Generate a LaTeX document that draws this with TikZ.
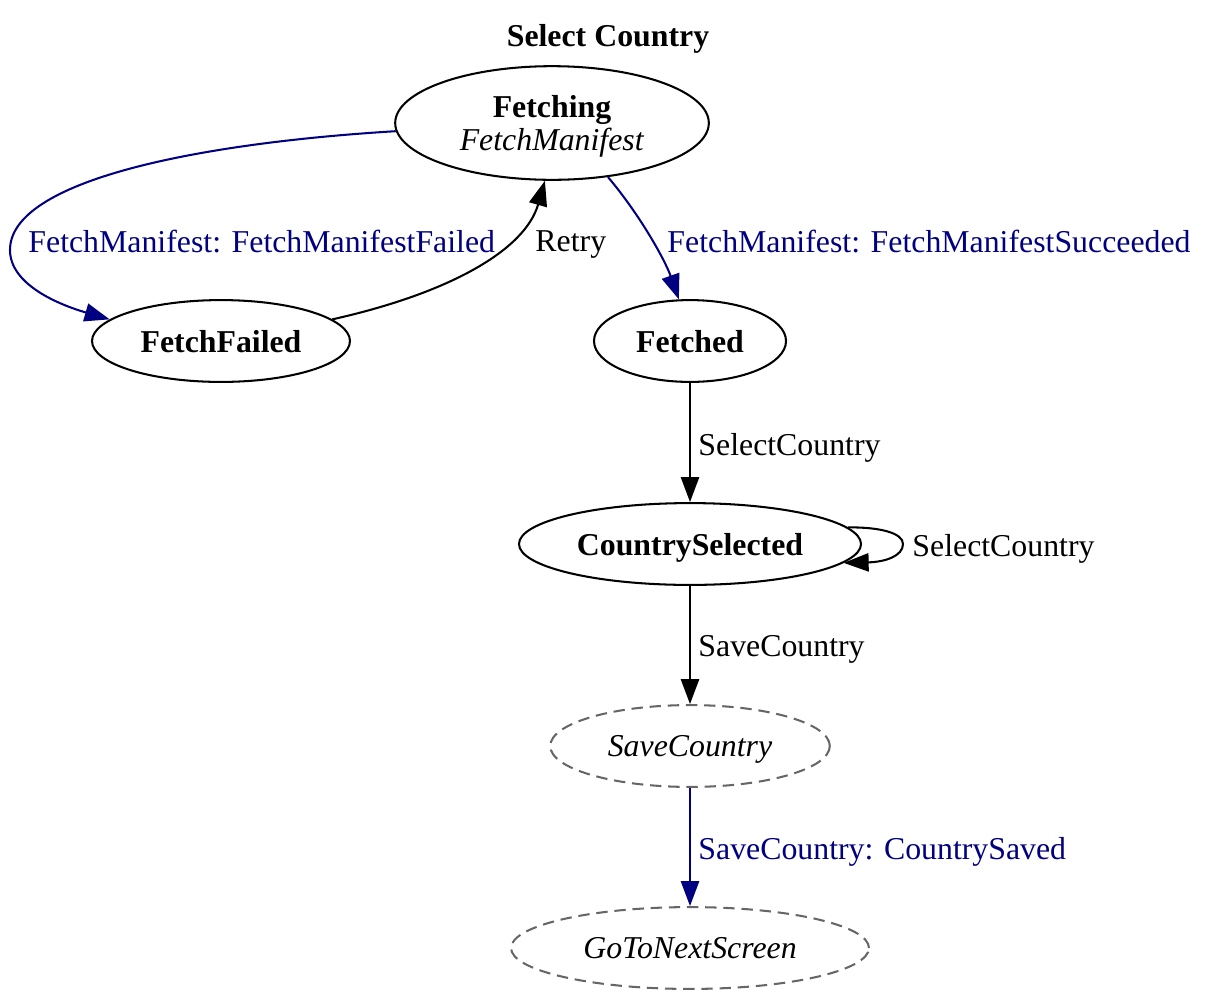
\documentclass[tikz,border=0pt]{standalone}
\usepackage{fontspec}
\setmainfont{Liberation Serif}
\usetikzlibrary{arrows.meta,shapes.geometric}
\definecolor{edgeblue}{RGB}{0,0,128}
\definecolor{actiongray}{RGB}{102,102,102}
\begin{document}
\begin{tikzpicture}[x=0.44pt,y=-0.44pt,>={Triangle[length=11pt,width=8pt]},
    every node/.style={font=\fontsize{14}{14.5}\selectfont,text depth=0pt},
    state/.style={ellipse,draw,line width=0.9pt,inner sep=0pt,font=\fontsize{14}{14.5}\selectfont\bfseries},
    action/.style={ellipse,draw=actiongray,line width=0.9pt,dash pattern=on 5pt off 3pt,inner sep=0pt,font=\fontsize{14}{14.5}\selectfont\itshape},
    transition/.style={line width=0.9pt,->},
    event/.style={anchor=west,inner sep=0pt}]
\useasboundingbox (0,0) rectangle (1205,1000);

%Title of the machine
\node[font=\fontsize{14}{14.5}\selectfont\bfseries] (title) at (608,35) {Select Country};

%States and actions
\node[state,minimum width=138pt,minimum height=50pt,align=center] (fetching) at (552,123)
    {Fetching\\[0pt]\textit{\mdseries FetchManifest}};
\node[state,minimum width=113.5pt,minimum height=36pt] (fetchfailed) at (221,341) {FetchFailed};
\node[state,minimum width=84.5pt,minimum height=36pt] (fetched) at (690,341) {Fetched};
\node[state,minimum width=150.5pt,minimum height=36pt] (selected) at (690,544) {CountrySelected};
\node[action,minimum width=123pt,minimum height=36pt] (savecountry) at (690,746) {SaveCountry};
\node[action,minimum width=157.5pt,minimum height=36pt] (nextscreen) at (690,948) {GoToNextScreen};

%Transitions out of Fetching and back
\draw[transition,edgeblue] (fetching.183) .. controls (200,143) and (10,180) .. (10,250)
    .. controls (10,285) and (60,305) .. (fetchfailed.169);
\draw[transition] (fetchfailed.11) .. controls (450,293) and (525,250) .. (fetching.263);
\draw[transition,edgeblue] (fetching.316) .. controls (640,215) and (665,260) .. (fetched.105);

%Straight transitions down the column
\draw[transition] (fetched) -- (selected);
\draw[transition] (selected.6) .. controls (880,527) and (903,533) .. (903,544)
    .. controls (903,556) and (885,562) .. (selected.-7);
\draw[transition] (selected) -- (savecountry);
\draw[transition,edgeblue] (savecountry) -- (nextscreen);

%Event labels
\node[event,text=edgeblue] (lblfailed) at (28,241) {FetchManifest: FetchManifestFailed};
\node[event] (lblretry) at (535,241) {Retry};
\node[event,text=edgeblue] (lblsucceeded) at (667,241) {FetchManifest: FetchManifestSucceeded};
\node[event] (lblselect) at (698,444) {SelectCountry};
\node[event] (lblreselect) at (912,545) {SelectCountry};
\node[event] (lblsave) at (698,646) {SaveCountry};
\node[event,text=edgeblue] (lblsaved) at (698,848) {SaveCountry: CountrySaved};
\end{tikzpicture}
\end{document}
